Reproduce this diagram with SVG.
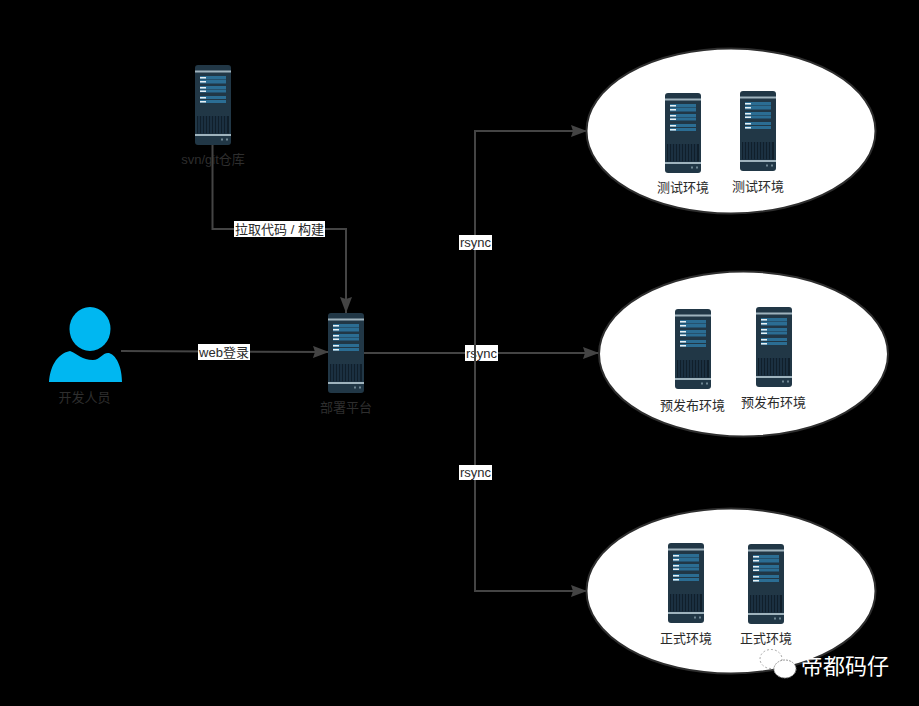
<svg xmlns="http://www.w3.org/2000/svg" width="919" height="706" viewBox="0 0 919 706">
<style>
text{font-family:"Liberation Sans","Noto Sans CJK SC",sans-serif;font-size:13px;text-anchor:middle}
.d{fill:#2e2e2e}
.t{fill:#2a2a2a}
.c{fill:none;stroke:#444;stroke-width:2}
.lb{fill:#fff}
.e{fill:#fff;stroke:#2e2e2e;stroke-width:2}
</style>
<defs>
<marker id="a" markerUnits="userSpaceOnUse" markerWidth="17" markerHeight="12" refX="16" refY="6" orient="auto"><path d="M0 0L16 6L0 12L2 6Z" fill="#444"/></marker>
<g id="srv">
<rect width="36" height="80" rx="3" fill="#213746"/>
<rect y="5.500" width="36" height="2" fill="#9fb3bd"/>
<rect y="69" width="36" height="2" fill="#9fb3bd"/>
<g fill="#2b6d93"><rect x="5" y="11" width="26" height="3.500"/><rect x="5" y="15" width="26" height="3.500"/><rect x="5" y="21" width="26" height="3"/><rect x="5" y="24.500" width="26" height="3"/><rect x="5" y="31" width="26" height="3"/><rect x="5" y="35" width="26" height="3"/></g>
<g fill="#e8f0f4"><rect x="5" y="12" width="6" height="1.500"/><rect x="5" y="16" width="6" height="1.500"/><rect x="5" y="22" width="6" height="1.500"/><rect x="5" y="25.500" width="6" height="1.500"/><rect x="5" y="32" width="6" height="1.500"/><rect x="5" y="36" width="6" height="1.500"/></g>
<rect x="2" y="51" width="32" height="17.500" fill="#101f2b"/>
<path d="M4 51v17.500M7 51v17.500M10 51v17.500M13 51v17.500M16 51v17.500M19 51v17.500M22 51v17.500M25 51v17.500M28 51v17.500M31 51v17.500" stroke="#264358" stroke-width="1"/>
<rect x="26" y="73.500" width="2" height="2" fill="#6f8692"/><rect x="31" y="73.500" width="2" height="2" fill="#6f8692"/>
</g>
</defs>
<rect width="919" height="706" fill="#000"/>
<g id="connectors">
<path class="c" d="M212.500 145V229H346V313" marker-end="url(#a)"/>
<path class="c" d="M121 351L329 352" marker-end="url(#a)"/>
<path class="c" d="M364 353H599" marker-end="url(#a)"/>
<path class="c" d="M475 353V131H587" marker-end="url(#a)"/>
<path class="c" d="M475 353V591H587" marker-end="url(#a)"/>
</g>
<g id="edge-labels">
<rect class="lb" x="234" y="221" width="91" height="16"/><text x="279.500" y="234" class="t">拉取代码 / 构建</text>
<rect class="lb" x="198" y="344" width="52" height="16"/><text x="224" y="357" class="t">web登录</text>
<rect class="lb" x="459" y="235" width="33" height="15"/><text x="475.500" y="247" class="t">rsync</text>
<rect class="lb" x="465" y="345" width="33" height="16"/><text x="481.500" y="358" class="t">rsync</text>
<path d="M475 345V361" stroke="#444" stroke-width="2"/>
<rect class="lb" x="459" y="465" width="33" height="15"/><text x="475.500" y="477" class="t">rsync</text>
</g>
<g id="developer">
<ellipse cx="90" cy="329" rx="20.500" ry="22" fill="#00b7f1"/>
<path d="M49 382C50 368 56 354 70 351C78 354 82 360 93 360C100 360 103 352 109 353C118 356 122 370 122 382Z" fill="#00b7f1"/>
<text class="d" x="84.500" y="402">开发人员</text>
</g>
<g id="repo"><use href="#srv" x="195" y="65"/><text class="d" x="213" y="164">svn/git仓库</text></g>
<g id="deploy"><use href="#srv" x="328" y="313"/><text class="d" x="346" y="412">部署平台</text></g>
<g id="test-env"><ellipse class="e" cx="731" cy="131" rx="144.500" ry="82.500"/>
<use href="#srv" x="665" y="93"/><text x="683" y="192" class="t">测试环境</text>
<use href="#srv" x="740" y="91"/><text x="758" y="191" class="t">测试环境</text></g>
<g id="pre-env"><ellipse class="e" cx="743.500" cy="354" rx="144.500" ry="82.500"/>
<use href="#srv" x="675" y="309"/><text x="692.500" y="410" class="t">预发布环境</text>
<use href="#srv" x="756" y="307"/><text x="773.500" y="407" class="t">预发布环境</text></g>
<g id="prod-env"><ellipse class="e" cx="731" cy="591" rx="144.500" ry="82.500"/>
<use href="#srv" x="668" y="543"/><text x="686" y="643" class="t">正式环境</text>
<use href="#srv" x="748" y="544"/><text x="766" y="643" class="t">正式环境</text></g>
<g id="watermark">
<ellipse cx="771" cy="659" rx="11" ry="9.500" fill="#fff" stroke="#aaa" stroke-width="1" stroke-dasharray="2 2"/>
<ellipse cx="785" cy="669" rx="11" ry="9" fill="#fff" stroke="#999" stroke-width="1" stroke-dasharray="2 1"/>
<text x="845" y="674" fill="#fff" style="font-size:22px">帝都码仔</text>
</g>
</svg>
